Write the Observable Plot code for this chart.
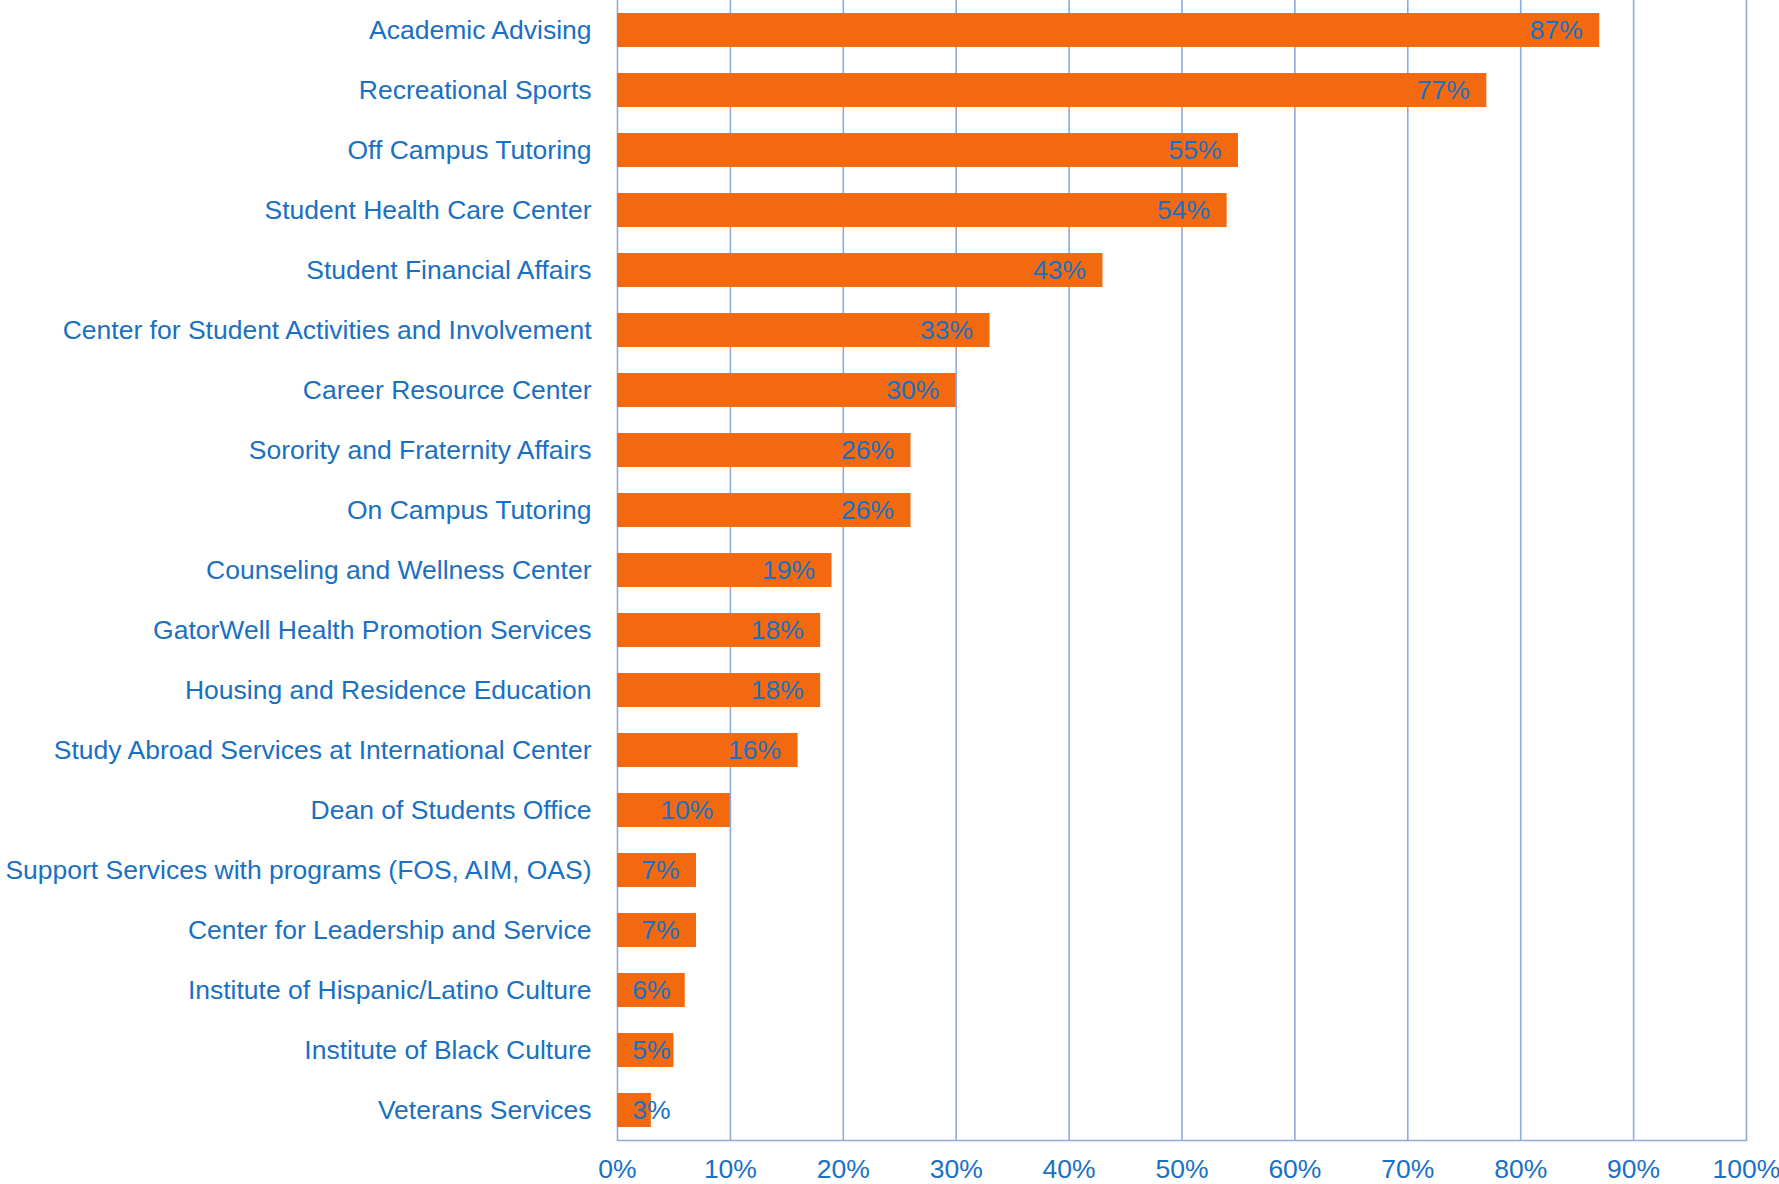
<!DOCTYPE html>
<html>
<head>
<meta charset="utf-8">
<script src="https://cdn.jsdelivr.net/npm/d3@7"></script>
<script src="https://cdn.jsdelivr.net/npm/@observablehq/plot@0.6"></script>
<style>
  html, body { margin: 0; padding: 0; background: #fff; }
  #chart svg { display: block; }
</style>
</head>
<body>
<div id="chart"></div>
<script>
const categories = [
  "Academic Advising",
  "Recreational Sports",
  "Off Campus Tutoring",
  "Student Health Care Center",
  "Student Financial Affairs",
  "Center for Student Activities and Involvement",
  "Career Resource Center",
  "Sorority and Fraternity Affairs",
  "On Campus Tutoring",
  "Counseling and Wellness Center",
  "GatorWell Health Promotion Services",
  "Housing and Residence Education",
  "Study Abroad Services at International Center",
  "Dean of Students Office",
  "Support Services with programs (FOS, AIM, OAS)",
  "Center for Leadership and Service",
  "Institute of Hispanic/Latino Culture",
  "Institute of Black Culture",
  "Veterans Services"
];
const values = [87, 77, 55, 54, 43, 33, 30, 26, 26, 19, 18, 18, 16, 10, 7, 7, 6, 5, 3];
const xTicks = [0, 10, 20, 30, 40, 50, 60, 70, 80, 90, 100];

const data = categories.map((c, i) => ({category: c, value: values[i]}));

const blue = "#1a70c2";
const grid = "#8faadc";
const orange = "#f3690f";
const fs = 26.5;

const chart = Plot.plot({
  width: 1779,
  height: 1184,
  marginLeft: 617,
  marginRight: 33,
  marginTop: 0,
  marginBottom: 44,
  style: {fontFamily: "'Liberation Sans', Arial, sans-serif", fontSize: fs + "px", color: blue, background: "#fff"},
  x: {domain: [0, 100], ticks: xTicks, label: null},
  y: {domain: categories, paddingInner: 0.433, paddingOuter: 0.2165, round: false, label: null},
  marks: [
    Plot.ruleX(xTicks, {stroke: grid, strokeWidth: 1.6}),
    Plot.barX(data, {y: "category", x: "value", fill: orange}),
    Plot.text(data, {
      y: "category",
      x: d => Math.max(d.value, 6.2),
      text: d => d.value + "%",
      textAnchor: "end",
      dx: -17,
      fill: blue,
      fontSize: fs
    }),
    Plot.axisY({tickSize: 0, tickPadding: 26, fill: blue, fontSize: fs}),
    Plot.axisX({ticks: xTicks, tickSize: 0, tickPadding: 19, tickFormat: d => d + "%", fill: blue, fontSize: fs}),
    Plot.frame({anchor: "bottom", stroke: grid, strokeWidth: 1.6})
  ]
});
document.getElementById("chart").appendChild(chart);
</script>
</body>
</html>
